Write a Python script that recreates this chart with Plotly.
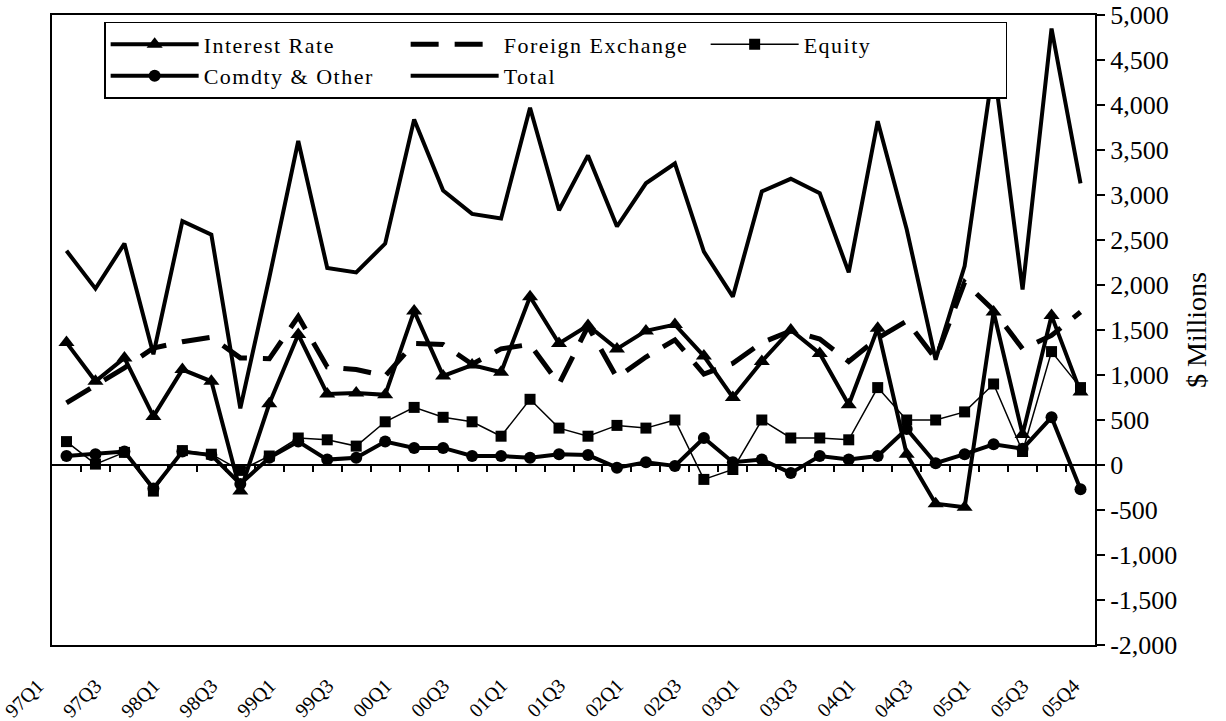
import plotly.graph_objects as go

quarters = ["97Q1", "97Q2", "97Q3", "97Q4", "98Q1", "98Q2", "98Q3", "98Q4",
            "99Q1", "99Q2", "99Q3", "99Q4", "00Q1", "00Q2", "00Q3", "00Q4",
            "01Q1", "01Q2", "01Q3", "01Q4", "02Q1", "02Q2", "02Q3", "02Q4",
            "03Q1", "03Q2", "03Q3", "03Q4", "04Q1", "04Q2", "04Q3", "04Q4",
            "05Q1", "05Q2", "05Q3", "05Q4"]

interest_rate = [1360, 930, 1190, 540, 1060, 930, -290, 680, 1450, 790, 800, 780,
                 1710, 990, 1110, 1030, 1870, 1350, 1550, 1290, 1490, 1560, 1210, 750,
                 1150, 1500, 1240, 670, 1520, 120, -430, -470, 1700, 340, 1660, 810]

foreign_exchange = [690, 890, 1080, 1300, 1370, 1420, 1190, 1180, 1650, 1090, 1060, 990,
                    1350, 1340, 1120, 1290, 1340, 900, 1540, 970, 1200, 1390, 1010, 1130,
                    1360, 1490, 1400, 1150, 1410, 1600, 1180, 2030, 1720, 1290, 1440, 1700]

equity = [260, 10, 140, -290, 160, 120, -60, 100, 300, 280, 210, 480,
          640, 530, 480, 320, 730, 410, 320, 440, 410, 500, -160, -50,
          500, 300, 300, 280, 860, 500, 500, 590, 900, 150, 1260, 860]

comdty_other = [100, 120, 150, -260, 150, 110, -210, 80, 260, 60, 80, 260,
                190, 190, 100, 100, 80, 120, 110, -30, 30, -10, 300, 30,
                60, -90, 100, 60, 100, 400, 20, 120, 230, 180, 530, -270]

total = [2380, 1960, 2460, 1230, 2710, 2560, 630, 2080, 3600, 2190, 2140, 2460,
         3840, 3050, 2790, 2740, 3970, 2830, 3440, 2650, 3130, 3350, 2370, 1870,
         3040, 3180, 3020, 2140, 3820, 2620, 1170, 2210, 4450, 1950, 4850, 3130]

tick_labels = ["97Q1", "97Q3", "98Q1", "98Q3", "99Q1", "99Q3", "00Q1", "00Q3",
               "01Q1", "01Q3", "02Q1", "02Q3", "03Q1", "03Q3", "04Q1", "04Q3",
               "05Q1", "05Q3", "05Q4"]

y_ticks = list(range(-2000, 5001, 500))

FONT = "Liberation Serif"
BLACK = "black"
LS = 1.5  # legend letter spacing (px)

idx = list(range(len(quarters)))


def spaced(s):
    return f'<span style="letter-spacing:{LS}px">{s}</span>'


fig = go.Figure()

fig.add_trace(go.Scatter(
    x=idx, y=interest_rate, name=spaced("Interest Rate"), mode="lines+markers",
    line=dict(color=BLACK, width=4),
    marker=dict(symbol="triangle-up", size=14, color=BLACK),
))
fig.add_trace(go.Scatter(
    x=idx, y=foreign_exchange, name=spaced("Foreign Exchange"), mode="lines",
    line=dict(color=BLACK, width=5, dash="28px,16px"),
))
fig.add_trace(go.Scatter(
    x=idx, y=equity, name=spaced("Equity"), mode="lines+markers",
    line=dict(color=BLACK, width=1.5),
    marker=dict(symbol="square", size=11, color=BLACK),
))
fig.add_trace(go.Scatter(
    x=idx, y=comdty_other, name=spaced("Comdty &amp; Other"), mode="lines+markers",
    line=dict(color=BLACK, width=4),
    marker=dict(symbol="circle", size=12, color=BLACK),
))
fig.add_trace(go.Scatter(
    x=idx, y=total, name=spaced("Total"), mode="lines",
    line=dict(color=BLACK, width=4),
))
# helper (invisible) trace so the zero-line tick axis is rendered
fig.add_trace(go.Scatter(
    x=idx, y=total, xaxis="x2", mode="markers", marker=dict(opacity=0),
    showlegend=False, hoverinfo="skip",
))

# category labels under the frame, rotated like the original
for lab in tick_labels:
    i = quarters.index(lab)
    fig.add_annotation(
        x=i, y=0, xref="x", yref="paper", text=lab, showarrow=False,
        textangle=-45, xanchor="right", yanchor="top",
        xshift=(6 if lab == "05Q4" else -16), yshift=-27,
        font=dict(family=FONT, size=20, color=BLACK),
    )

fig.update_layout(
    width=1226, height=721,
    margin=dict(l=52, r=131, t=15, b=76, autoexpand=False),
    paper_bgcolor="white", plot_bgcolor="white",
    font=dict(family=FONT, color=BLACK),
    showlegend=True,
    legend=dict(
        orientation="h", x=0.050, y=0.989, xanchor="left", yanchor="top",
        bordercolor=BLACK, borderwidth=1.5, bgcolor="white",
        font=dict(family=FONT, size=22, color=BLACK),
        itemwidth=88, entrywidth=197, entrywidthmode="pixels",
        tracegroupgap=0,
    ),
    xaxis=dict(
        range=[-0.5, len(quarters) - 0.5],
        showticklabels=False, ticks="", showgrid=False, zeroline=False,
        showline=True, linecolor=BLACK, linewidth=2, mirror=True,
    ),
    xaxis2=dict(
        overlaying="x", anchor="free", position=2 / 7, side="bottom",
        range=[-0.5, len(quarters) - 0.5],
        tickmode="array", tickvals=[i + 0.5 for i in idx[:-1]],
        ticks="outside", ticklen=6, tickwidth=1.5, tickcolor=BLACK,
        showticklabels=False, showline=False, showgrid=False, zeroline=False,
    ),
    yaxis=dict(
        side="right", range=[-2000, 5000],
        tickmode="array", tickvals=y_ticks, ticktext=[f"{v:,}" for v in y_ticks],
        ticks="outside", ticklen=8, tickwidth=2, tickcolor=BLACK,
        ticklabeloverflow="allow",
        showline=True, linecolor=BLACK, linewidth=2, mirror=True,
        showgrid=False, zeroline=True, zerolinecolor=BLACK, zerolinewidth=2,
        tickfont=dict(family=FONT, size=26, color=BLACK),
        title=dict(text="$ Millions", font=dict(family=FONT, size=28, color=BLACK), standoff=10),
        automargin=False,
    ),
)

fig.write_html("out.html", config={"displayModeBar": False},
               post_script="document.body.style.margin='0';")
